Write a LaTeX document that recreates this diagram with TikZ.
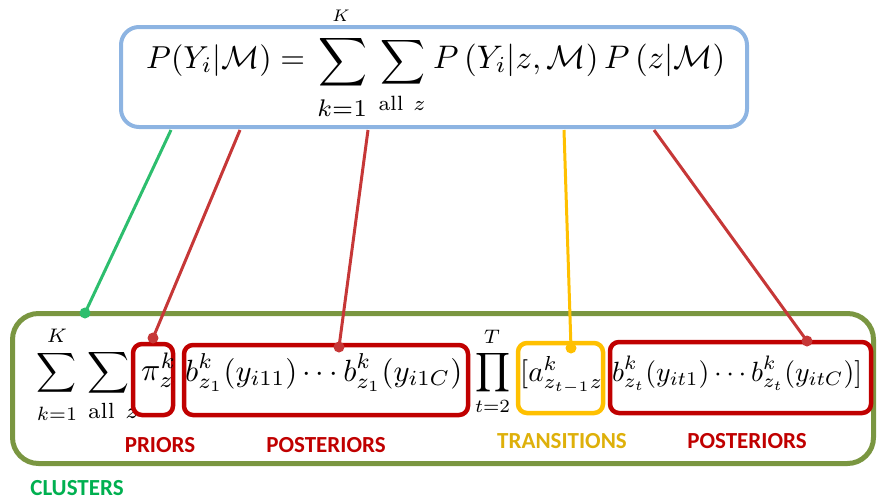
\documentclass[tikz,border=0pt]{standalone}
\usepackage{amsmath}
\usepackage{fontspec}
\usepackage{graphicx}
\newfontfamily\labfont{Carlito}
\definecolor{bluebox}{RGB}{141,180,226}
\definecolor{olivebox}{RGB}{122,150,65}
\definecolor{redbox}{RGB}{192,0,0}
\definecolor{redline}{RGB}{198,55,55}
\definecolor{yelbox}{RGB}{255,192,0}
\definecolor{yeltext}{RGB}{222,176,10}
\definecolor{grline}{RGB}{45,190,110}
\definecolor{grtext}{RGB}{0,176,80}
\newcommand{\RW}[2]{\resizebox{#1pt}{!}{$\displaystyle #2$}}
\newcommand{\RS}[2]{\resizebox{#1pt}{!}{$\scriptstyle #2$}}
\begin{document}
\begin{tikzpicture}[x=1pt,y=-1pt,
  frame/.style={draw, rounded corners=#1, inner sep=0pt},
  conn/.style={line width=3pt},
  dotm/.style={circle, fill, inner sep=0pt, minimum size=11pt},
  lab/.style={font=\labfont\bfseries\fontsize{23}{26}\selectfont, inner sep=0pt},
  fm/.style={anchor=base west, inner sep=0pt},
  fc/.style={anchor=center, inner sep=0pt}]
\useasboundingbox (0,0) rectangle (878,501);
% ---------- top formula ----------
\node[fm] (tl) at (146,68) {\RW{159}{P(Y_i|\mathcal{M})=}};
\node[fc] (ts1) at (343.5,62.5) {\RW{49}{\sum}};
\node[fc] (tK) at (341,16) {\scalebox{2.4}{$\scriptstyle K$}};
\node[fc] (tk1) at (342,108) {\RS{50}{k=1}};
\node[fc] (ts2) at (402.5,62.5) {\RW{45}{\sum}};
\node[fc] (tall) at (402,103) {\RS{47}{\mathrm{all}\ z}};
\node[fm] (tr) at (433,68) {\RW{292}{P\left(Y_i|z,\mathcal{M}\right)P\left(z|\mathcal{M}\right)}};
\node[frame=18pt, draw=bluebox, line width=4pt, minimum width=626pt, minimum height=100pt] (top) at (434,77) {};
% ---------- bottom frame ----------
\node[frame=26pt, draw=olivebox, line width=5pt, minimum width=861pt, minimum height=150pt] (bot) at (443,388.5) {};
% ---------- bottom formula ----------
\node[fc] (bs1) at (57,372.5) {\RW{40}{\sum}};
\node[fc] (bK) at (57,336) {\scalebox{2.8}{$\scriptstyle K$}};
\node[fc] (bk1) at (57,414) {\RS{40}{k=1}};
\node[fc] (bs2) at (109,372.5) {\RW{42}{\sum}};
\node[fm] (ball) at (88,418) {\RS{50}{\mathrm{all}\ z}};
\node[frame=9pt, draw=redbox, fill=white, line width=4.5pt, minimum width=40pt, minimum height=71pt] (bpri) at (153,379.5) {};
\begin{scope}
  \clip (134,330) rectangle (173,414);
  \node[fm] (pi) at (141,380) {\scalebox{3.2}{$\pi^{k}_{z_1}$}};
\end{scope}
\node[fm] (p1) at (185,381) {\RW{277}{b^{k}_{z_1}(y_{i11})\cdots b^{k}_{z_1}(y_{i1C})}};
\node[fc] (pr) at (492.5,372.5) {\RW{35}{\prod}};
\node[fc] (bT) at (492,337) {\scalebox{2.8}{$\scriptstyle T$}};
\node[fc] (bt2) at (492.5,406) {\RS{35}{t=2}};
\begin{scope}
  \clip (518,330) rectangle (601,413);
  \node[fm] (tra) at (520,381) {\scalebox{2.9}{$[a^{k}_{z_{t-1}z_t}$}};
\end{scope}
\node[fm] (p2) at (612,381) {\RW{250}{b^{k}_{z_t}(y_{it1})\cdots b^{k}_{z_t}(y_{itC})]}};
% ---------- boxes ----------
\node[frame=9pt, draw=redbox, line width=4.5pt, minimum width=284pt, minimum height=70pt] (bpo1) at (326,380) {};
\node[frame=9pt, draw=yelbox, line width=4.5pt, minimum width=85pt, minimum height=70pt] (btr) at (560.5,378) {};
\node[frame=9pt, draw=redbox, line width=4.5pt, minimum width=261pt, minimum height=71pt] (bpo2) at (740.5,377.5) {};
% ---------- labels ----------
\node[lab, text=redbox] (lpri) at (160,445) {PRIORS};
\node[lab, text=redbox] (lpo1) at (326,445) {POSTERIORS};
\node[lab, text=yeltext] (ltr) at (562,441.5) {TRANSITIONS};
\node[lab, text=redbox] (lpo2) at (747,441.5) {POSTERIORS};
\node[lab, text=grtext] (lcl) at (77,488.5) {CLUSTERS};
% ---------- connectors ----------
\coordinate (cg) at (171,130);
\coordinate (cr1) at (240,130);
\coordinate (cr2) at (368,130);
\coordinate (cy) at (564,130);
\coordinate (cr3) at (654,130);
\node[dotm, fill=grline] (dg) at (85,313) {};
\node[dotm, fill=redline] (dr1) at (153,338) {};
\node[dotm, fill=redline] (dr2) at (339,347) {};
\node[dotm, fill=yelbox] (dy) at (571,348) {};
\node[dotm, fill=redline] (dr3) at (807,341) {};
\draw[conn, grline] (cg) -- (dg.center);
\draw[conn, redline] (cr1) -- (dr1.center);
\draw[conn, redline] (cr2) -- (dr2.center);
\draw[conn, yelbox] (cy) -- (dy.center);
\draw[conn, redline] (cr3) -- (dr3.center);
\end{tikzpicture}
\end{document}
